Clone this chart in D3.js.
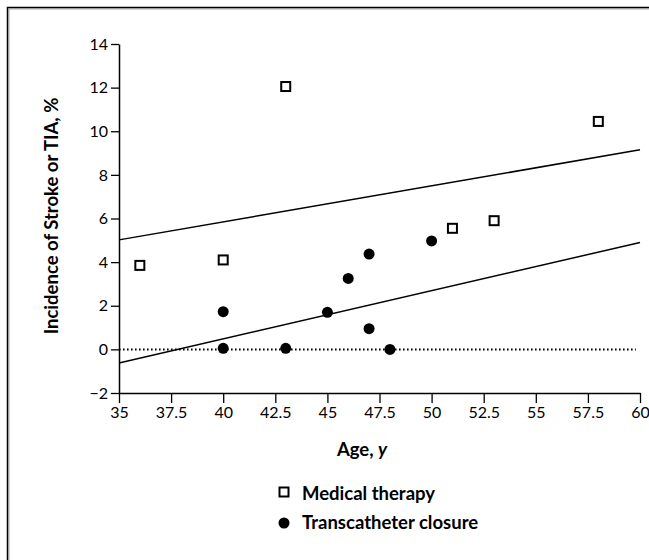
<!DOCTYPE html>
<html lang="en">
<head>
    <meta charset="UTF-8">
    <title>Incidence of Stroke or TIA by Age</title>
    <script src="https://d3js.org/d3.v7.min.js"></script>
    <style>
        body {
            margin: 0;
            padding: 0;
            background-color: #fff;
        }
        svg text {
            font-family: Lato, "Open Sans", sans-serif;
            fill: #000;
        }
    </style>
</head>
<body>
    <div id="chart"></div>
    <script>
        // data
        const medicalAge = [36, 40, 43, 51, 53, 58];
        const medicalRate = [3.85, 4.1, 12.05, 5.55, 5.9, 10.45];

        const closureAge = [40, 40, 43, 45, 46, 47, 47, 48, 50];
        const closureRate = [1.73, 0.05, 0.05, 1.7, 3.25, 4.37, 0.95, 0.0, 4.97];

        // fitted lines: [age, rate] at both ends
        const medicalFit = [[35, 5.02], [60, 9.15]];
        const closureFit = [[35, -0.62], [60, 4.9]];

        const xTicks = [35, 37.5, 40, 42.5, 45, 47.5, 50, 52.5, 55, 57.5, 60];
        const yTicks = [-2, 0, 2, 4, 6, 8, 10, 12, 14];

        const legendLabels = ["Medical therapy", "Transcatheter closure"];

        const width = 649, height = 560;

        const svg = d3.select("#chart")
            .append("svg")
            .attr("width", width)
            .attr("height", height);

        // outer frame (runs off the right and bottom edges)
        svg.append("rect")
            .attr("x", 9).attr("y", 9)
            .attr("width", 700).attr("height", 600)
            .attr("fill", "none")
            .attr("stroke", "#aaa")
            .attr("stroke-width", 1);
        svg.append("rect")
            .attr("x", 7.5).attr("y", 7.5)
            .attr("width", 700).attr("height", 600)
            .attr("fill", "none")
            .attr("stroke", "#000")
            .attr("stroke-width", 1.5);

        const x = d3.scaleLinear().domain([35, 60]).range([119, 640]);
        const y = d3.scaleLinear().domain([-2, 14]).range([393, 44]);

        // axes
        const xAxis = svg.append("g")
            .attr("transform", `translate(0,${y(-2)})`)
            .call(d3.axisBottom(x).tickValues(xTicks).tickSize(10).tickSizeOuter(0)
                .tickFormat(d3.format("")));
        const yAxis = svg.append("g")
            .attr("transform", `translate(${x(35)},0)`)
            .call(d3.axisLeft(y).tickValues(yTicks).tickSize(8).tickSizeOuter(0));

        [xAxis, yAxis].forEach(g => {
            g.attr("font-size", 16).attr("font-family", "Lato, sans-serif");
            g.select(".domain").attr("stroke", "#000").attr("stroke-width", 1.5);
            g.selectAll(".tick line").attr("stroke", "#000").attr("stroke-width", 1.3);
            g.selectAll(".tick text").attr("fill", "#000");
        });
        xAxis.selectAll(".tick text").attr("dy", "0.71em").attr("y", 14);
        yAxis.selectAll(".tick text").attr("x", -11);

        // dotted zero line
        svg.append("line")
            .attr("x1", x(35)).attr("x2", x(59.8))
            .attr("y1", y(0)).attr("y2", y(0))
            .attr("stroke", "#000")
            .attr("stroke-width", 2)
            .attr("stroke-dasharray", "1.6,2.4");

        // regression lines
        const line = d3.line().x(d => x(d[0])).y(d => y(d[1]));
        [medicalFit, closureFit].forEach(f => {
            svg.append("path")
                .attr("d", line(f))
                .attr("fill", "none")
                .attr("stroke", "#000")
                .attr("stroke-width", 1.5);
        });

        // transcatheter closure points
        svg.selectAll("circle.closure")
            .data(closureAge.map((a, i) => [a, closureRate[i]]))
            .enter()
            .append("circle")
            .attr("class", "closure")
            .attr("cx", d => x(d[0]))
            .attr("cy", d => y(d[1]))
            .attr("r", 5.5)
            .attr("fill", "#000");

        // medical therapy points
        const sq = 9;
        svg.selectAll("rect.medical")
            .data(medicalAge.map((a, i) => [a, medicalRate[i]]))
            .enter()
            .append("rect")
            .attr("class", "medical")
            .attr("x", d => x(d[0]) - sq / 2)
            .attr("y", d => y(d[1]) - sq / 2)
            .attr("width", sq)
            .attr("height", sq)
            .attr("fill", "#fff")
            .attr("stroke", "#000")
            .attr("stroke-width", 2);

        // axis titles
        const xTitle = svg.append("text")
            .attr("x", 362)
            .attr("y", 456)
            .attr("text-anchor", "middle")
            .attr("font-size", 18.5)
            .attr("font-weight", "bold");
        xTitle.append("tspan").text("Age, ");
        xTitle.append("tspan").attr("font-style", "italic").text("y");

        svg.append("text")
            .attr("transform", "translate(58,216) rotate(-90)")
            .attr("text-anchor", "middle")
            .attr("font-size", 18.5)
            .attr("font-weight", "bold")
            .text("Incidence of Stroke or TIA, %");

        // legend
        const legend = svg.append("g");
        legend.append("rect")
            .attr("x", 284 - 4.5).attr("y", 492 - 4.5)
            .attr("width", 9).attr("height", 9)
            .attr("fill", "#fff")
            .attr("stroke", "#000")
            .attr("stroke-width", 2);
        legend.append("circle")
            .attr("cx", 284).attr("cy", 523)
            .attr("r", 5.5)
            .attr("fill", "#000");
        legend.selectAll("text")
            .data(legendLabels)
            .enter()
            .append("text")
            .attr("x", 302)
            .attr("y", (d, i) => 500 + i * 29)
            .attr("font-size", 18.5)
            .attr("font-weight", "bold")
            .text(d => d);
    </script>
</body>
</html>
